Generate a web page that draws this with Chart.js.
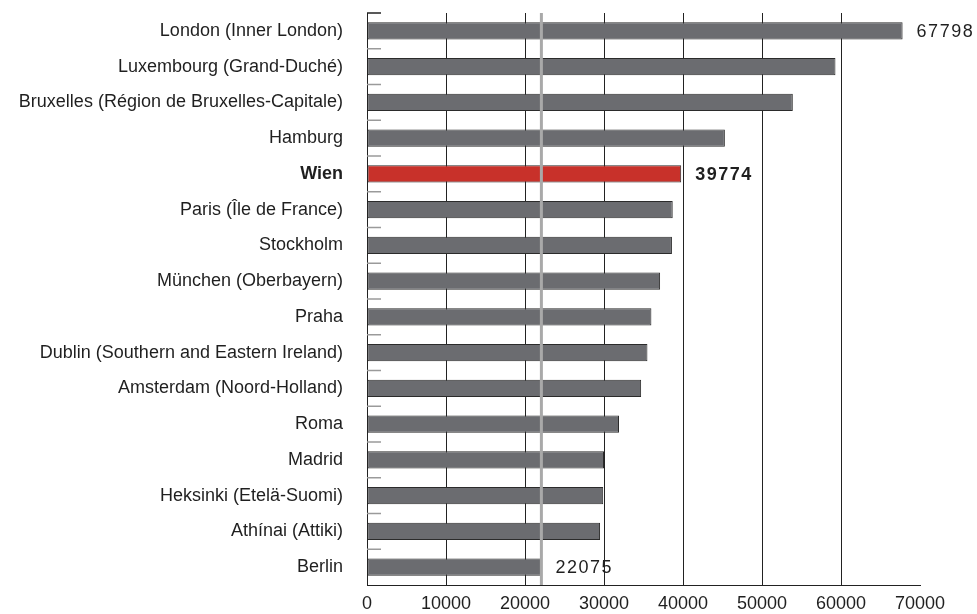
<!DOCTYPE html>
<html>
<head>
<meta charset="utf-8">
<script src="https://cdn.jsdelivr.net/npm/chart.js@4/dist/chart.umd.min.js"></script>
<style>
    html, body { margin: 0; padding: 0; background: #fff; }
    #wrap { width: 977px; height: 614px; position: relative; }
</style>
</head>
<body>
<div id="wrap"><canvas id="gdpChart"></canvas></div>
<script>
// ===== DATA =====
const categories = [
    'London (Inner London)',
    'Luxembourg (Grand-Duché)',
    'Bruxelles (Région de Bruxelles-Capitale)',
    'Hamburg',
    'Wien',
    'Paris (Île de France)',
    'Stockholm',
    'München (Oberbayern)',
    'Praha',
    'Dublin (Southern and Eastern Ireland)',
    'Amsterdam (Noord-Holland)',
    'Roma',
    'Madrid',
    'Heksinki (Etelä-Suomi)',
    'Athínai (Attiki)',
    'Berlin'
];
const values = [67798, 59300, 53900, 45300, 39774, 38700, 38600, 37100, 36000, 35500, 34700, 31900, 30000, 29900, 29500, 22075];
const xTicks = [0, 10000, 20000, 30000, 40000, 50000, 60000, 70000];
const highlight = 'Wien';
const labelled = ['London (Inner London)', 'Wien', 'Berlin'];
const referenceValue = 22075;

const FONT = "'Liberation Sans', Arial, Helvetica, sans-serif";
const TEXT = '#1f1f1f';

// Trennstriche, Referenzlinie, Werte
const overlay = {
    id: 'overlay',
    afterDatasetsDraw(chart) {
        const { ctx, chartArea: a, scales: { x, y } } = chart;
        ctx.save();

        for (let i = 0; i < categories.length; i++) {
            const yy = i === 0 ? a.top : (y.getPixelForTick(i - 1) + y.getPixelForTick(i)) / 2;
            ctx.strokeStyle = i === 0 ? '#222' : '#9a9a9a';
            ctx.lineWidth = 1.5;
            ctx.beginPath();
            ctx.moveTo(a.left, yy);
            ctx.lineTo(a.left + 14, yy);
            ctx.stroke();
        }

        const rx = x.getPixelForValue(referenceValue);
        ctx.strokeStyle = '#a9a9a9';
        ctx.lineWidth = 3;
        ctx.beginPath();
        ctx.moveTo(rx, a.top);
        ctx.lineTo(rx, a.bottom);
        ctx.stroke();

        const meta = chart.getDatasetMeta(0);
        ctx.fillStyle = TEXT;
        ctx.textBaseline = 'middle';
        ctx.textAlign = 'left';
        ctx.letterSpacing = '1.5px';
        categories.forEach((c, i) => {
            if (!labelled.includes(c)) return;
            const bar = meta.data[i];
            ctx.font = (c === highlight ? 'bold ' : '') + '18px ' + FONT;
            ctx.fillText(String(values[i]), bar.x + 14, bar.y + 1);
        });
        ctx.restore();
    }
};

new Chart(document.getElementById('gdpChart'), {
    type: 'bar',
    data: {
        labels: categories,
        datasets: [{
            data: values,
            backgroundColor: categories.map(c => c === highlight ? '#c8312a' : '#6b6c70'),
            borderColor: '#2b2b2b',
            borderWidth: 1,
            borderSkipped: false,
            categoryPercentage: 1,
            barPercentage: 0.48
        }]
    },
    options: {
        indexAxis: 'y',
        responsive: true,
        maintainAspectRatio: false,
        animation: false,
        layout: { padding: { top: 13, right: 57, left: 0, bottom: 0 } },
        plugins: {
            legend: { display: false },
            tooltip: { enabled: false }
        },
        scales: {
            x: {
                min: xTicks[0],
                max: xTicks[xTicks.length - 1],
                afterBuildTicks: (scale) => { scale.ticks = xTicks.map(v => ({ value: v })); },
                afterFit: (scale) => { scale.height = 29; },
                grid: {
                    color: (c) => (c.tick && c.tick.value === 70000) ? 'rgba(0,0,0,0)' : '#222',
                    lineWidth: 1,
                    drawTicks: false
                },
                border: { display: true, color: '#222', width: 1 },
                ticks: {
                    padding: 8,
                    color: TEXT,
                    font: { family: FONT, size: 18 },
                    callback: (v) => String(v),
                    maxRotation: 0
                }
            },
            y: {
                afterFit: (scale) => {
                    scale.width = 367;
                    scale.paddingTop = 0;
                    scale.paddingBottom = 0;
                },
                grid: { display: false },
                border: { display: true, color: '#222', width: 1 },
                ticks: {
                    padding: 16,
                    color: TEXT,
                    font: (c) => ({ family: FONT, size: 18, weight: categories[c.index] === highlight ? 'bold' : 'normal' })
                }
            }
        }
    },
    plugins: [overlay]
});
</script>
</body>
</html>
